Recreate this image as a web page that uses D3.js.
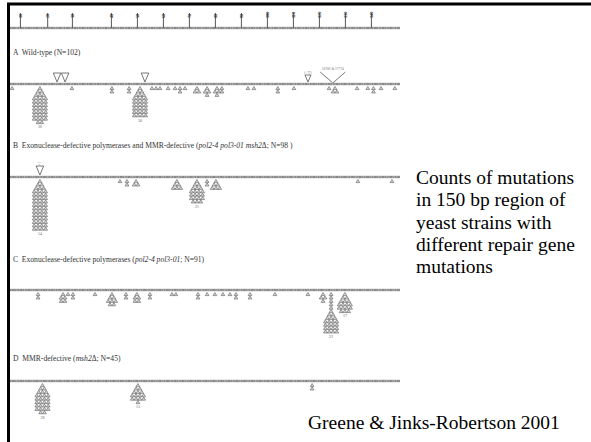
<!DOCTYPE html>
<html>
<head>
<meta charset="utf-8">
<script src="https://cdn.jsdelivr.net/npm/d3@7/dist/d3.min.js"></script>
<style>
    body { margin: 0; background: #fff; }
    svg { display: block; }
</style>
</head>
<body>
<svg id="chart" width="591" height="442"></svg>
<script>
// ruler along the 150 bp region (positions in bp)
var rulerTicks = [4, 14.5, 24, 39, 49, 59, 69, 79, 89, 99, 109, 119, 129, 139];
var rulerLabels = ["10", "20", "30", "40", "50", "60", "70", "80", "90", "100", "110", "120", "130", "140"];

var panelTitles = [
    ["A  Wild-type (N=102)"],
    ["B  Exonuclease-defective polymerases and MMR-defective (", "pol2-4 pol3-01 msh2", "\u0394; N=98 )"],
    ["C  Exonuclease-defective polymerases (", "pol2-4 pol3-01", "; N=91)"],
    ["D  MMR-defective (", "msh2", "\u0394; N=45)"]
];

// [position bp, number of mutations, stacked singles above the pile]
var sitesA = [[0.8, 1], [11.5, 36], [23.8, 1], [39.2, 2], [45.8, 2], [50, 30], [54.6, 1], [56.2, 1],
    [57.7, 1], [60.8, 1], [63.5, 1], [65.4, 2], [67.3, 1], [71.9, 3], [75.8, 4], [79.6, 4], [81.5, 2],
    [91.5, 1], [93.8, 1], [103, 2], [109.2, 1], [122.7, 1], [125, 3], [133.5, 1], [137.6, 1],
    [139.8, 2], [142.7, 1], [148, 1]];
var sitesB = [[11.5, 54], [42.3, 1], [45, 2], [48.5, 3], [64.2, 6], [71.9, 21], [75.8, 2],
    [79.2, 6], [133.8, 1], [146.9, 1]];
var sitesC = [[10.8, 2], [20.4, 5], [22.3, 1], [24.2, 2], [32.7, 1], [39.2, 8], [44.6, 2], [48.8, 5],
    [53.8, 2], [62.3, 1], [63.8, 1], [72.3, 2], [75.8, 1], [78.8, 1], [81.9, 1], [84.6, 1], [86.9, 2],
    [92.3, 2], [101.9, 1], [114.6, 1], [120.4, 4], [123.5, 22, 5], [128.8, 17]];
var sitesD = [[12.5, 28], [49.2, 15], [116.2, 2]];

// insertions drawn above the line [position bp, note]
var insA = [[18.1, ""], [21.2, ""], [51.9, ""], [114.6, "(+T)"]];
var insB = [[11.5, "\u2235"]];
// large event drawn as a V spanning two positions
var spanA = [[119.3, 129, "10706 & 17774"]];

var svg = d3.select("#chart");
var x = d3.scaleLinear().domain([0, 150]).range([10, 400]);

var tw = 3.8, th = 3.4, maxCols = 4;
var lineYs = [84, 177, 290, 381];
var titleYs = [54.5, 147.5, 261.5, 360.5];

/**
 * frame: top and left black rules
 */
svg.append("line").attr("x1", 7).attr("x2", 591).attr("y1", 4).attr("y2", 4)
        .style("stroke", "#000").style("stroke-width", 3);
svg.append("line").attr("x1", 8.5).attr("x2", 8.5).attr("y1", 3).attr("y2", 442)
        .style("stroke", "#000").style("stroke-width", 3);

/**
 * Draws the textured grey line standing for the DNA sequence
 */
function drawSequence(y) {
    svg.append("line")
            .attr("x1", x(0)).attr("x2", x(150)).attr("y1", y).attr("y2", y)
            .style("stroke", "#aaa").style("stroke-width", 2.6);
    svg.append("line")
            .attr("x1", x(0)).attr("x2", x(150)).attr("y1", y).attr("y2", y)
            .style("stroke", "#666").style("stroke-width", 1.1)
            .style("stroke-dasharray", "1.2,1.1,2.4,0.7,0.8,1.5");
}

// ruler
drawSequence(28);
var ruler = svg.append("g");
ruler.selectAll("line.tick").data(rulerTicks).enter().append("line")
        .attr("class", "tick")
        .attr("x1", function(d) { return x(d); })
        .attr("x2", function(d) { return x(d); })
        .attr("y1", 13).attr("y2", 28)
        .style("stroke", "#555").style("stroke-width", 1);
ruler.selectAll("text").data(rulerLabels).enter().append("text")
        .attr("transform", function(d, i) { return "translate(" + (x(rulerTicks[i]) + 1.4) + ",18) rotate(-90)"; })
        .style("font-family", "Liberation Serif, serif")
        .style("font-size", "4.2px").style("font-weight", "bold")
        .style("fill", "#333")
        .text(function(d) { return d; });

/**
 * row widths of a pile: singles first, then 1,2,3,4,4...
 */
function pileRows(n, stem) {
    var rows = [], left = n, w = 1, s;
    for (s = 0; s < (stem || 0); s++) { rows.push(1); }
    while (left > 0) {
        var k = Math.min(w, left);
        rows.push(k);
        left -= k;
        if (w < maxCols) w++;
    }
    return rows;
}

function triPath(cx, top, w, h, down) {
    if (down) {
        return "M" + (cx - w / 2) + "," + top + "L" + (cx + w / 2) + "," + top + "L" + cx + "," + (top + h) + "Z";
    }
    return "M" + cx + "," + top + "L" + (cx + w / 2) + "," + (top + h) + "L" + (cx - w / 2) + "," + (top + h) + "Z";
}

/**
 * Draws one panel: title, sequence line, piles of triangles
 */
function drawPanel(idx, sites, ins, spans) {
    var y0 = lineYs[idx];
    var g = svg.append("g");

    var title = g.append("text")
            .attr("x", 13).attr("y", titleYs[idx])
            .style("font-family", "Liberation Serif, serif")
            .style("font-size", "7.6px").style("fill", "#333")
            .attr("xml:space", "preserve");
    panelTitles[idx].forEach(function(t, i) {
        title.append("tspan").style("font-style", i === 1 ? "italic" : "normal").text(t);
    });

    drawSequence(y0);

    sites.forEach(function(s) {
        var rows = pileRows(s[1], s[2]);
        var cx = x(s[0]);
        rows.forEach(function(k, r) {
            for (var i = 0; i < k; i++) {
                g.append("path")
                        .attr("d", triPath(cx + (i - (k - 1) / 2) * tw, y0 + 2.5 + r * th, tw, th - 0.3, false))
                        .style("fill", "#d9d9d9").style("stroke", "#666").style("stroke-width", 0.65);
            }
        });
        if (s[1] >= 10) {
            g.append("text")
                    .attr("x", cx).attr("y", y0 + 2.5 + rows.length * th + 4.5)
                    .attr("text-anchor", "middle")
                    .style("font-family", "Liberation Serif, serif")
                    .style("font-size", "4px").style("fill", "#666")
                    .text(s[1]);
        }
    });

    (ins || []).forEach(function(d) {
        var small = d[1] !== "" && d[1] !== "\u2235";
        var w = small ? 6 : 7.5, h = small ? 7 : 9;
        g.append("path")
                .attr("d", triPath(x(d[0]), y0 - 2 - h, w, h, true))
                .style("fill", "#fff").style("stroke", "#555").style("stroke-width", 0.8);
        if (d[1]) {
            g.append("text")
                    .attr("x", x(d[0])).attr("y", y0 - 3 - h)
                    .attr("text-anchor", "middle")
                    .style("font-family", "Liberation Serif, serif")
                    .style("font-size", "4px").style("fill", "#777")
                    .text(d[1]);
        }
    });

    (spans || []).forEach(function(d) {
        var a = x(d[0]), b = x(d[1]), m = (a + b) / 2;
        g.append("path")
                .attr("d", "M" + a + "," + (y0 - 12) + "L" + m + "," + (y0 - 1) + "L" + b + "," + (y0 - 12))
                .style("fill", "none").style("stroke", "#555").style("stroke-width", 0.8);
        g.append("text")
                .attr("x", m).attr("y", y0 - 14)
                .attr("text-anchor", "middle")
                .style("font-family", "Liberation Serif, serif")
                .style("font-size", "3.5px").style("fill", "#777")
                .text(d[2]);
    });
}

drawPanel(0, sitesA, insA, spanA);
drawPanel(1, sitesB, insB, []);
drawPanel(2, sitesC, [], []);
drawPanel(3, sitesD, [], []);

// caption text on the right
var caption = ["Counts of mutations", "in 150 bp region of", "yeast strains with", "different repair gene", "mutations"];
svg.append("g").selectAll("text").data(caption).enter().append("text")
        .attr("x", 416)
        .attr("y", function(d, i) { return 184 + i * 22.3; })
        .style("font-family", "Liberation Serif, 'Times New Roman', serif")
        .style("font-size", "19.5px").style("fill", "#000")
        .text(function(d) { return d; });

svg.append("text")
        .attr("x", 308).attr("y", 429)
        .style("font-family", "Liberation Serif, 'Times New Roman', serif")
        .style("font-size", "19.5px").style("fill", "#000")
        .text("Greene & Jinks-Robertson 2001");
</script>
</body>
</html>
